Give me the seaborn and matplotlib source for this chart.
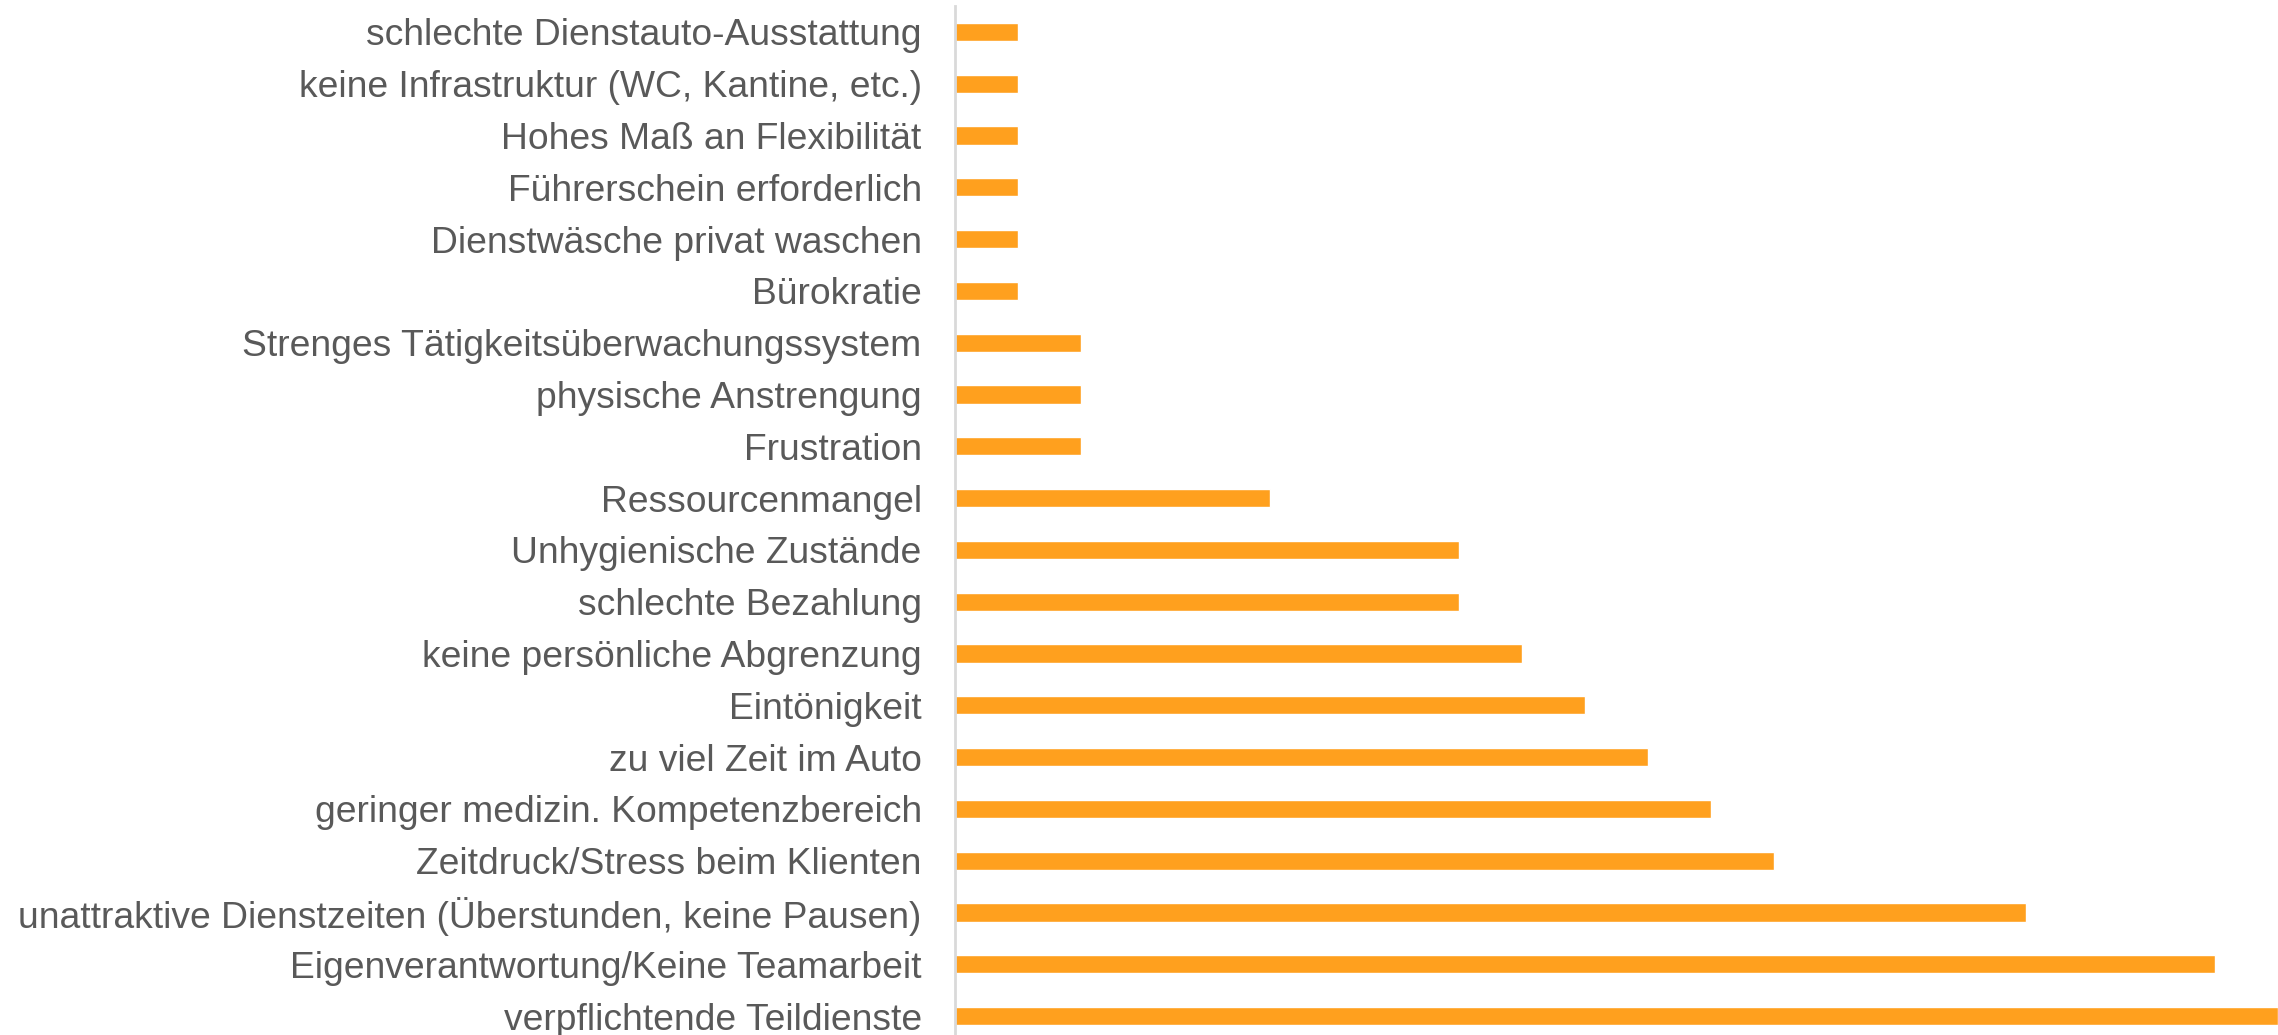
# horizontal bar chart: reasons against the job (counts)
import pandas as pd
import matplotlib.pyplot as plt
import seaborn as sns

categories = [
    "schlechte Dienstauto-Ausstattung",
    "keine Infrastruktur (WC, Kantine, etc.)",
    "Hohes Maß an Flexibilität",
    "Führerschein erforderlich",
    "Dienstwäsche privat waschen",
    "Bürokratie",
    "Strenges Tätigkeitsüberwachungssystem",
    "physische Anstrengung",
    "Frustration",
    "Ressourcenmangel",
    "Unhygienische Zustände",
    "schlechte Bezahlung",
    "keine persönliche Abgrenzung",
    "Eintönigkeit",
    "zu viel Zeit im Auto",
    "geringer medizin. Kompetenzbereich",
    "Zeitdruck/Stress beim Klienten",
    "unattraktive Dienstzeiten (Überstunden, keine Pausen)",
    "Eigenverantwortung/Keine Teamarbeit",
    "verpflichtende Teildienste",
]
counts = [1, 1, 1, 1, 1, 1, 2, 2, 2, 5, 8, 8, 9, 10, 11, 12, 13, 17, 20, 21]

df = pd.DataFrame({"reason": categories, "count": counts})

sns.set_style("white")
plt.rcParams['font.family'] = ['Liberation Sans', 'DejaVu Sans']

fig = plt.figure(figsize=(22.78, 10.35), dpi=100)
# axes runs a little past the bottom edge, like the source image
ax = fig.add_axes([955 / 2278, -7 / 1035, 1 - 955 / 2278, 1036 / 1035])

sns.barplot(data=df, y='reason', x='count', color='#FFA01E', saturation=1,
            width=0.35, ax=ax)

ax.set_xlim(0, 21)
ax.set_xlabel('')
ax.set_ylabel('')
ax.set_xticks([])
ax.tick_params(axis='y', length=0, pad=24, labelsize=26.8, labelcolor='#595959')

for side in ['top', 'right', 'bottom']:
    ax.spines[side].set_visible(False)
ax.spines['left'].set_color('#D9D9D9')
ax.spines['left'].set_linewidth(2)

fig.savefig('out.png', dpi=100)
